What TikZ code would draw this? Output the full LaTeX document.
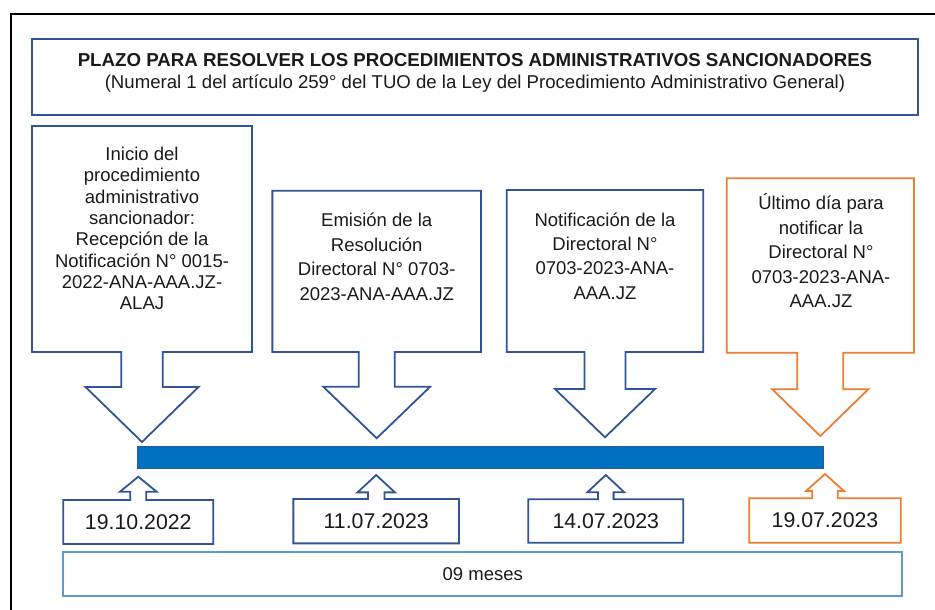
\documentclass[tikz,border=0pt]{standalone}
\usepackage{fontspec}
\setmainfont{Liberation Sans}
\usetikzlibrary{positioning}
\definecolor{navy}{RGB}{47,85,151}
\definecolor{naranja}{RGB}{237,125,49}
\definecolor{celeste}{RGB}{91,155,213}
\definecolor{barra}{RGB}{0,112,192}
\definecolor{tinta}{RGB}{26,26,26}
\newcommand{\flechaabajo}[6]{%
  \draw[#1] (#2.south west) -- (#2.north west) -- (#2.north east) -- (#2.south east)
    -- ([xshift=#3]#2.south) -- ([xshift=#3,yshift=-#4]#2.south)
    -- ([xshift=#5,yshift=-#4]#2.south) -- ([yshift=-#4-#6]#2.south)
    -- ([xshift=-#5,yshift=-#4]#2.south) -- ([xshift=-#3,yshift=-#4]#2.south)
    -- ([xshift=-#3]#2.south) -- cycle;}
\newcommand{\flechaarriba}[6]{%
  \draw[#1] (#2.north west) -- (#2.south west) -- (#2.south east) -- (#2.north east)
    -- ([xshift=#3]#2.north) -- ([xshift=#3,yshift=#4]#2.north)
    -- ([xshift=#5,yshift=#4]#2.north) -- ([yshift=#4+#6]#2.north)
    -- ([xshift=-#5,yshift=#4]#2.north) -- ([xshift=-#3,yshift=#4]#2.north)
    -- ([xshift=-#3]#2.north) -- cycle;}
\begin{document}
\begin{tikzpicture}[x=1pt,y=-1pt,
  caja/.style={rectangle,outer sep=0pt,inner sep=0pt},
  letra/.style={text=tinta,align=center,font=\fontsize{18.5}{24.4}\selectfont},
  fecha/.style={caja,text=tinta,font=\fontsize{21.3}{24}\selectfont},
  azul/.style={draw=navy,line width=1.8pt},
  naranjo/.style={draw=naranja,line width=1.8pt}]
\useasboundingbox (0,0) rectangle (935,610);
\draw[line width=1.4pt] (11,610) -- (11,14) -- (935,14);

\node[caja,azul,minimum width=886pt,minimum height=76pt] (titulo) at (475,77) {};
\node[text=tinta,align=center,font=\fontsize{18.6}{22}\selectfont] (tit) at (475,73)
  {{\bfseries\fontsize{18.7}{22}\selectfont PLAZO PARA RESOLVER LOS PROCEDIMIENTOS ADMINISTRATIVOS SANCIONADORES}\\
   (Numeral 1 del artículo 259° del TUO de la Ley del Procedimiento Administrativo General)};

\node[caja,fill=barra,draw=navy,line width=1pt,minimum width=686pt,minimum height=22pt] (linea) at (480.9,457.2) {};

\node[caja,minimum width=220pt,minimum height=226pt] (c1) at (142,239) {};
\node[caja,minimum width=208.7pt,minimum height=161.3pt] (c2) at (376.7,271.3) {};
\node[caja,minimum width=196.6pt,minimum height=162pt] (c3) at (605,271) {};
\node[caja,minimum width=187.3pt,minimum height=174.4pt] (c4) at (820.3,265.5) {};
\flechaabajo{azul}{c1}{20.8}{35}{56.5}{55}
\flechaabajo{azul}{c2}{18}{34.7}{53.5}{51.6}
\flechaabajo{azul}{c3}{20.5}{37}{50}{48.3}
\flechaabajo{naranjo}{c4}{23}{36.6}{48}{46.7}

\node[letra,font=\fontsize{18.5}{21.3}\selectfont] (t1) at (142,228.5)
  {Inicio del\\procedimiento\\administrativo\\sancionador:\\Recepción de la\\Notificación N° 0015-\\2022-ANA-AAA.JZ-\\ALAJ};
\node[letra] (t2) at (376.7,256.7) {Emisión de la\\Resolución\\Directoral N° 0703-\\2023-ANA-AAA.JZ};
\node[letra] (t3) at (605,256) {Notificación de la\\Directoral N°\\0703-2023-ANA-\\AAA.JZ};
\node[letra] (t4) at (821,250.8) {Último día para\\notificar la\\Directoral N°\\0703-2023-ANA-\\AAA.JZ};

\node[fecha,minimum width=150pt,minimum height=44pt] (f1) at (138.3,522) {19.10.2022};
\node[fecha,minimum width=165.7pt,minimum height=44.3pt] (f2) at (376.2,521.2) {11.07.2023};
\node[fecha,minimum width=155pt,minimum height=43.4pt] (f3) at (605.8,521) {14.07.2023};
\node[fecha,minimum width=151.4pt,minimum height=44.4pt] (f4) at (825,520.5) {19.07.2023};
\flechaarriba{azul}{f1}{8}{8.3}{18.3}{15}
\flechaarriba{azul}{f2}{8.3}{6.7}{18.7}{17.3}
\flechaarriba{azul}{f3}{7.8}{7}{18.5}{17.3}
\flechaarriba{naranjo}{f4}{12.8}{7.3}{19}{17}

\node[caja,draw=celeste,line width=1.8pt,minimum width=839pt,minimum height=43.7pt,
  text=tinta,font=\fontsize{18.5}{20}\selectfont] (meses) at (482.8,574.2) {09 meses};
\end{tikzpicture}
\end{document}
